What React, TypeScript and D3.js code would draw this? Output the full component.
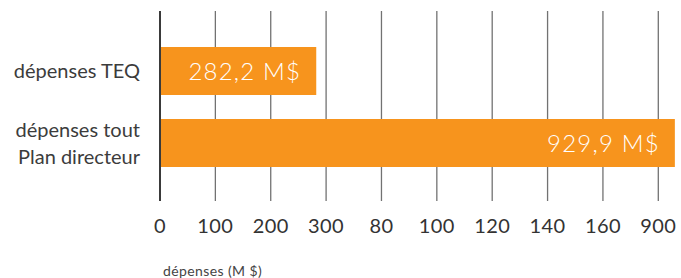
import React, { useEffect, useRef } from 'react';
import * as d3 from 'd3';

const categories = ['dépenses TEQ', 'dépenses tout\nPlan directeur'];
const values = [282.2, 929.9];
const tickValues = [0, 100, 200, 300, 400, 500, 600, 700, 800, 900];
const tickLabels = ['0', '100', '200', '300', '80', '100', '120', '140', '160', '900'];
const axisTitle = 'dépenses (M $)';

const W = 681;
const H = 278;
const FONT = 'Lato, "Open Sans", sans-serif';

const App: React.FC = () => {
  const svgRef = useRef<SVGSVGElement | null>(null);

  useEffect(() => {
    if (!svgRef.current) return;
    const svg = d3.select(svgRef.current);
    svg.selectAll('*').remove();

    const x = d3.scaleLinear().domain([0, 900]).range([160, 658.3]);
    const y = d3
      .scaleBand<string>()
      .domain(categories)
      .range([23, 191])
      .paddingInner(1 / 3)
      .paddingOuter(1 / 3);

    const gridTop = 11;
    const gridBottom = 201;

    // grille verticale
    svg
      .append('g')
      .selectAll('line')
      .data(tickValues.slice(1))
      .enter()
      .append('line')
      .attr('x1', (d) => x(d))
      .attr('x2', (d) => x(d))
      .attr('y1', gridTop)
      .attr('y2', gridBottom)
      .attr('stroke', '#727272')
      .attr('stroke-width', 1.3);

    // barres
    svg
      .append('g')
      .selectAll('rect')
      .data(values)
      .enter()
      .append('rect')
      .attr('x', x(0))
      .attr('y', (_, i) => y(categories[i])!)
      .attr('width', (d) => x(d) - x(0))
      .attr('height', y.bandwidth())
      .attr('fill', '#F7941D');

    // axe 0
    svg
      .append('line')
      .attr('x1', x(0))
      .attr('x2', x(0))
      .attr('y1', gridTop)
      .attr('y2', gridBottom)
      .attr('stroke', '#3a3a3a')
      .attr('stroke-width', 2);

    // étiquettes de valeur
    svg
      .append('g')
      .selectAll('text')
      .data(values)
      .enter()
      .append('text')
      .attr('x', (d) => x(d) - 15)
      .attr('y', (_, i) => y(categories[i])! + y.bandwidth() / 2 + 9)
      .attr('text-anchor', 'end')
      .attr('font-family', FONT)
      .attr('font-weight', 300)
      .attr('font-size', 24)
      .attr('letter-spacing', 1.2)
      .attr('fill', '#ffffff')
      .text((d) => d3.format('.1f')(d).replace('.', ',') + ' M$');

    // catégories
    categories.forEach((cat) => {
      const lines = cat.split('\n');
      const cy = y(cat)! + y.bandwidth() / 2;
      const t = svg
        .append('text')
        .attr('text-anchor', 'end')
        .attr('font-family', FONT)
        .attr('font-size', 20)
        .attr('fill', '#3c3c3c');
      lines.forEach((line, i) => {
        t.append('tspan')
          .attr('x', 140)
          .attr('y', cy + 7 + (i - (lines.length - 1) / 2) * 27)
          .text(line);
      });
    });

    // libellés de l'axe x
    svg
      .append('g')
      .selectAll('text')
      .data(tickValues)
      .enter()
      .append('text')
      .attr('x', (d) => x(d))
      .attr('y', 233)
      .attr('text-anchor', 'middle')
      .attr('font-family', FONT)
      .attr('font-size', 20)
      .attr('letter-spacing', 0.4)
      .attr('fill', '#333')
      .text((_, i) => tickLabels[i]);

    svg
      .append('text')
      .attr('x', 163)
      .attr('y', 276)
      .attr('font-family', FONT)
      .attr('font-size', 14)
      .attr('letter-spacing', 0.4)
      .attr('fill', '#444')
      .text(axisTitle);
  }, []);

  return (
    <svg
      ref={svgRef}
      width={W}
      height={H}
      style={{ position: 'absolute', left: 0, top: 0, background: '#fff' }}
    ></svg>
  );
};

export default App;
